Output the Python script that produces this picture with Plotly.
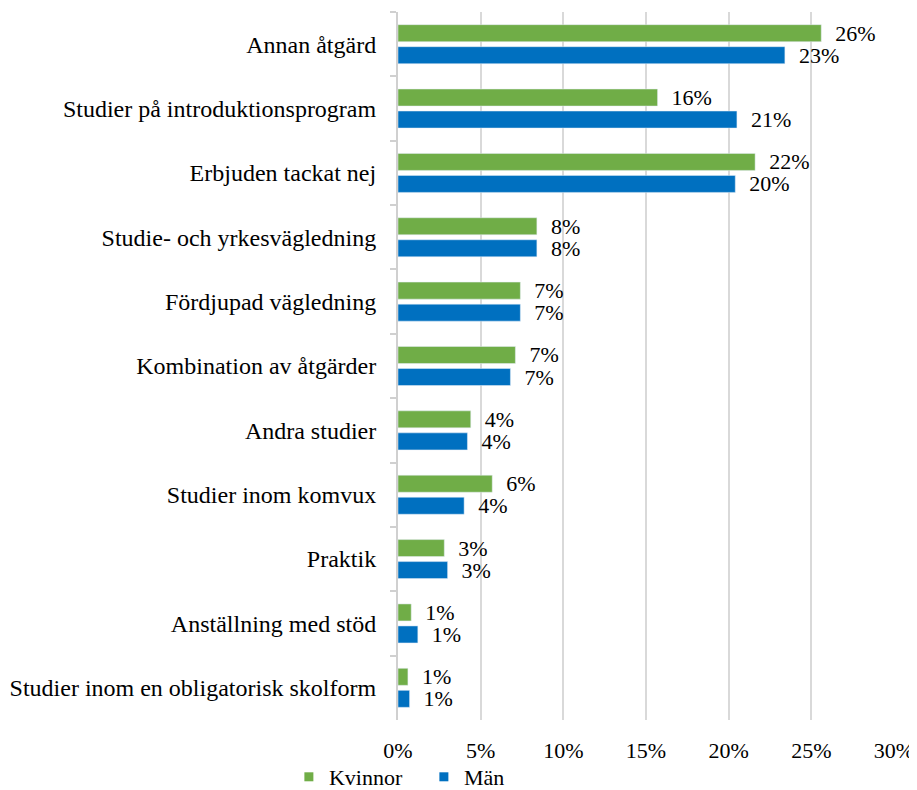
import plotly.graph_objects as go

categories = [
    "Annan åtgärd",
    "Studier på introduktionsprogram",
    "Erbjuden tackat nej",
    "Studie- och yrkesvägledning",
    "Fördjupad vägledning",
    "Kombination av åtgärder",
    "Andra studier",
    "Studier inom komvux",
    "Praktik",
    "Anställning med stöd",
    "Studier inom en obligatorisk skolform",
]
kvinnor = [0.256, 0.157, 0.216, 0.084, 0.074, 0.071, 0.044, 0.057, 0.028, 0.008, 0.006]
man = [0.234, 0.205, 0.204, 0.084, 0.074, 0.068, 0.042, 0.040, 0.030, 0.012, 0.007]

FONT = "Liberation Serif"
series = [("Kvinnor", kvinnor, "#70AD47"), ("Män", man, "#0070C0")]

fig = go.Figure()
for name, vals, color in series:
    fig.add_trace(go.Bar(
        name=name, y=categories, x=vals, orientation="h",
        marker_color=color, showlegend=False,
        texttemplate="\u00a0\u00a0%{x:.0%}", textposition="outside",
        constraintext="none",
        textfont=dict(size=22, color="black", family=FONT),
        cliponaxis=False,
    ))
# small square legend swatches
for name, vals, color in series:
    fig.add_trace(go.Scatter(
        name=name, x=[None], y=[None], mode="markers",
        marker=dict(symbol="square", size=9, color=color),
    ))

# page body has an 8px margin, so the figure sits 8px right/down in the window
fig.update_layout(
    width=909, height=790,
    barmode="group", bargap=0.316, bargroupgap=0.227,
    plot_bgcolor="white", paper_bgcolor="white",
    font=dict(family=FONT, size=22, color="black"),
    margin=dict(l=390, r=23, t=4, b=78),
    showlegend=True,
    legend=dict(orientation="h", x=-0.22, xanchor="left",
                yref="container", y=0, yanchor="bottom", bgcolor="rgba(0,0,0,0)",
                font=dict(size=22, family=FONT), itemwidth=30, tracegroupgap=0,
                entrywidth=90, entrywidthmode="pixels"),
)
fig.update_xaxes(range=[0, 0.30], tickformat=".0%", dtick=0.05,
                 showgrid=True, gridcolor="#D9D9D9", gridwidth=2,
                 zeroline=False, showline=False, ticks="",
                 ticklabelstandoff=15, automargin=False,
                 tickfont=dict(size=22, family=FONT))
fig.update_yaxes(autorange="reversed", showline=True, linecolor="#D0D0D0", linewidth=2,
                 ticks="outside", tickson="boundaries", ticklen=6, tickcolor="#D0D0D0",
                 tickwidth=2, ticklabelstandoff=15, showgrid=False, automargin=False,
                 tickfont=dict(size=24, family=FONT))

fig.write_html("out.html")
